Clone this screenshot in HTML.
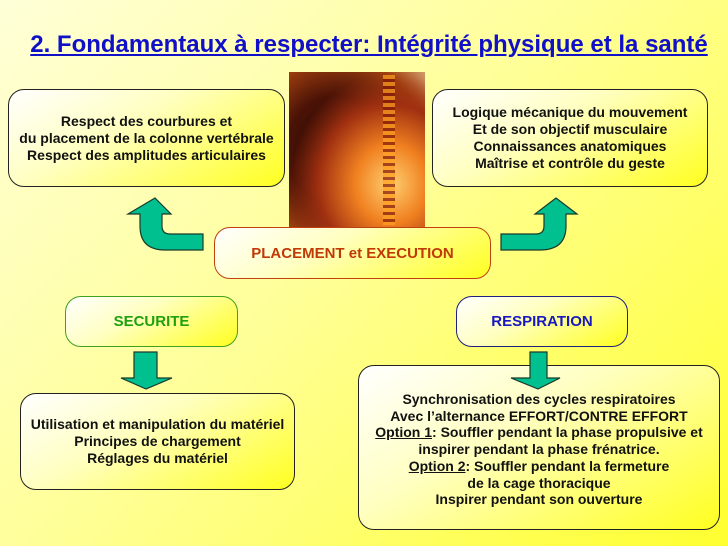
<!DOCTYPE html>
<html><head><meta charset="utf-8"><style>
body{margin:0}
#p{position:relative;width:728px;height:546px;overflow:hidden;background:linear-gradient(135deg,#ffffd8 0%,#ffff9a 45%,#ffff30 100%);font-family:"Liberation Sans",sans-serif}
.t{position:absolute;left:0;width:738px;top:31px;text-align:center;font-size:24px;font-weight:bold;color:#1010c8;text-decoration:underline;white-space:nowrap}
.b{position:absolute;box-sizing:border-box;border:1.3px solid #222;border-radius:16px;background:linear-gradient(150deg,#ffffff 0%,#ffffc0 40%,#ffff20 100%);display:flex;align-items:center;justify-content:center;text-align:center;font-size:14px;font-weight:bold;line-height:17px;color:#111;white-space:nowrap}
</style></head><body><div id="p">
<div class="t">2. Fondamentaux à respecter: Intégrité physique et la santé</div>
<div style="position:absolute;left:289px;top:72px;width:136px;height:172px;background:radial-gradient(ellipse at 75% 65%,#ffd070 0%,#f08020 25%,#a03010 50%,transparent 70%),radial-gradient(ellipse at 35% 45%,#2a0a04 0%,#4a1206 40%,#a04010 70%,#e8c090 100%)"></div>
<div style="position:absolute;left:383px;top:75px;width:12px;height:150px;background:repeating-linear-gradient(180deg,#ffa020 0 4px,#801808 4px 7px);opacity:.7"></div>
<div class="b" style="left:8px;top:89px;width:277px;height:98px"><div>Respect des courbures et<br>du placement de la colonne vertébrale<br>Respect des amplitudes articulaires</div></div>
<div class="b" style="left:432px;top:89px;width:276px;height:98px"><div>Logique mécanique du mouvement<br>Et de son objectif musculaire<br>Connaissances anatomiques<br>Maîtrise et contrôle du geste</div></div>
<div class="b" style="left:214px;top:227px;width:277px;height:52px;border-color:#c04010;color:#c03a08;font-size:15px"><div>PLACEMENT et EXECUTION</div></div>
<div class="b" style="left:65px;top:296px;width:173px;height:51px;border-color:#40a020;color:#20a010;font-size:15px"><div>SECURITE</div></div>
<div class="b" style="left:456px;top:296px;width:172px;height:51px;border-color:#202080;color:#1818c0;font-size:15px"><div>RESPIRATION</div></div>
<div class="b" style="left:20px;top:393px;width:275px;height:97px"><div>Utilisation et manipulation du matériel<br>Principes de chargement<br>Réglages du matériel</div></div>
<div class="b" style="left:358px;top:365px;width:362px;height:165px;padding-top:4px;font-size:14px;line-height:16.7px"><div>Synchronisation des cycles respiratoires<br>Avec l’alternance EFFORT/CONTRE EFFORT<br><u>Option 1</u>: Souffler pendant la phase propulsive et<br>inspirer pendant la phase frénatrice.<br><u>Option 2</u>: Souffler pendant la fermeture<br>de la cage thoracique<br>Inspirer pendant son ouverture</div></div>
<svg width="728" height="546" style="position:absolute;left:0;top:0">
<g fill="#00c090" stroke="#1a3a2a" stroke-width="1.2">
<path d="M128,214 L155,198 L171,214 L162,214 L162,226 Q162,234 170,234 L203,234 L203,250 L165,250 Q140,250 140,226 L140,214 Z"/>
<path d="M577,214 L556,198 L535,214 L544,214 L544,226 Q544,234 536,234 L501,234 L501,250 L540,250 Q566,250 566,226 L566,214 Z"/>
<path d="M134,352 L157,352 L157,378 L172,378 L146,389 L121,378 L134,378 Z"/>
<path d="M530,352 L547,352 L547,378 L560,378 L538,389 L511,378 L530,378 Z"/>
</g></svg>
</div></body></html>
